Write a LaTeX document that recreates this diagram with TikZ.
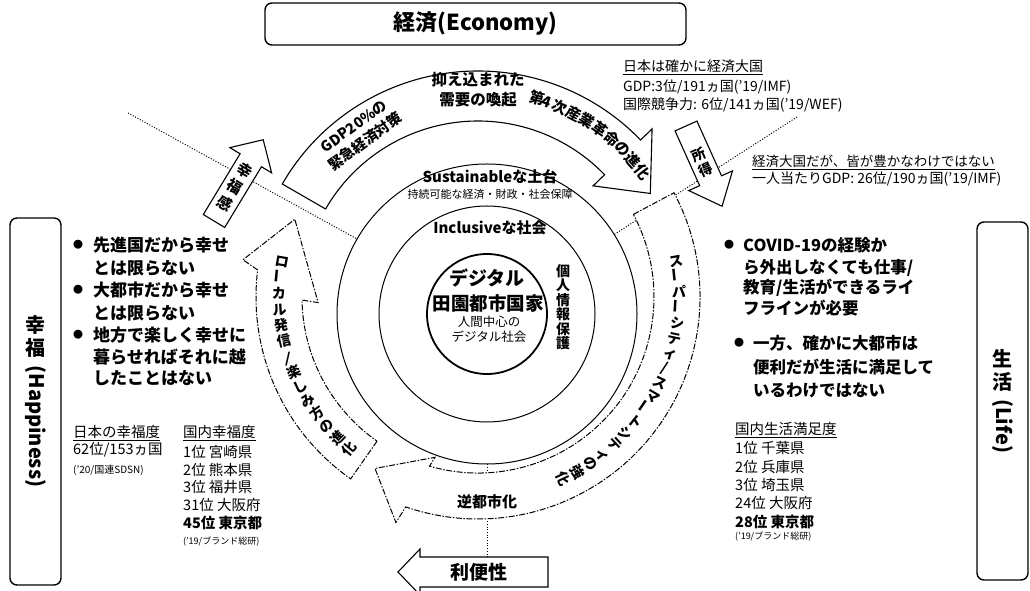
\documentclass[tikz,border=0pt]{standalone}
\usepackage{fontspec}
\setmainfont{Noto Sans CJK JP}
\usetikzlibrary{calc}
\newcommand{\fsz}[2]{\fontsize{#1}{#2}\selectfont}
\newcommand{\vb}{\rotatebox{90}{ー}}
\begin{document}
\begin{tikzpicture}[x=1pt,y=1pt,
  frame/.style={draw, line width=1.4pt, rounded corners=7pt, inner sep=0pt},
  blk/.style={draw, line width=1.1pt, fill=white, line join=miter},
  dblk/.style={draw, line width=1pt, fill=white, dash pattern=on 6pt off 1.6pt on 1.4pt off 1.6pt},
  dotl/.style={line width=1pt, dash pattern=on 1pt off 1.7pt},
  ringc/.style={circle, draw, line width=1pt, inner sep=0pt},
  lt/.style={inner sep=0pt, anchor=west},
  ct/.style={inner sep=0pt},
  rtxt/.style={inner sep=0pt, font=\fsz{14}{14}\bfseries, text height=10.5pt, text depth=1.2pt, text width=12pt, align=center},
]
\useasboundingbox (0,0) rectangle (1030,591);
\fill[white] (0,0) rectangle (1030,591);

% concentric circles
\node[ringc, minimum size=300] (sus) at (487,277) {};
\node[ringc, minimum size=216] (incl) at (487,277) {};
\node[ringc, minimum size=120, line width=1.8pt] (core) at (487,277) {};

% dotted dividers
\coordinate (C) at (478,294);
\coordinate (d1) at (128,478);
\coordinate (d2) at (797,474);
\coordinate (benriTop) at (487,34);
\draw[dotl] (d1) -- (sus.150.8);
\draw[dotl] (d2) -- (sus.32.4);
\draw[dotl] (sus.south) -- (benriTop);

% ring arrows
\begin{scope}[shift={(C)}]
\path[blk] (150:176) -- (150:226) arc[start angle=150, end angle=44, radius=226]
  -- (44:242) -- (31:201) -- (44:160) -- (44:176)
  arc[start angle=44, end angle=150, radius=176] -- cycle;
\path[dblk] (28:176) -- (28:222) arc[start angle=28, end angle=-109, radius=222]
  -- (-110:240) -- (-121:200) -- (-105:166) -- (-106:176)
  arc[start angle=-106, end angle=28, radius=176] -- cycle;
\path[dblk] (235:176) -- (235:222) arc[start angle=235, end angle=173, radius=222]
  -- (171:238) -- (157:199) -- (182:160) -- (181:176)
  arc[start angle=181, end angle=235, radius=176] -- cycle;
\end{scope}

% small block arrows
\begin{scope}[shift={(214,370)}, rotate=58.8]
\path[blk] (0,-12.5) -- (71,-12.5) -- (71,-24.4) -- (95,0) -- (71,24.4) -- (71,12.5) -- (0,12.5) -- cycle;
\end{scope}
\begin{scope}[shift={(686,465)}, rotate=-65.8]
\path[blk] (0,-12) -- (60,-12) -- (60,-24) -- (88,0) -- (60,24) -- (60,12) -- (0,12) -- cycle;
\end{scope}
\path[blk] (548,34) -- (420,34) -- (420,42) -- (398,19) -- (420,-4) -- (420,4) -- (548,4) -- cycle;

\node[ct, font=\fsz{15}{19}\bfseries, align=center, rotate=-31.2] (kofukukan) at (234.7,404.2) {幸\\福\\感};
\node[ct, font=\fsz{14}{17}\bfseries, align=center, rotate=24.2] (shotoku) at (702.4,428.5) {所\\得};
\node[ct, font=\fsz{19}{19}\bfseries] (benri) at (479,19) {利便性};

% ring texts
\node[ct, font=\fsz{14.5}{19}\bfseries, align=center, rotate=36] (gdp) at ($(C)+(126:201)$) {GDP20\%の\\緊急経済対策};
\node[ct, font=\fsz{15.5}{20}\bfseries, align=center] (yokusei) at ($(C)+(90:207)$) {抑え込まれた\\需要の喚起};
\foreach \c/\a [count=\i] in {第/74,4/70.6,次/67.2,産/63,業/58.8,革/54.6,命/50.4,の/46.2,進/42,化/37.8}
  \node[rtxt, font=\fsz{15}{15}\bfseries, text width=11pt, rotate=\a-90] (sg\i) at ($(C)+(\a:206)$) {\c};
\foreach \c [count=\i from 0] in {ロ,\vb,カ,ル,発,信,{\rotatebox{-18}{/}},楽,し,み,方,の,進,化}
  \node[rtxt, rotate={170+\i*4.6-180}] (lc\i) at ($(C)+({170+\i*4.6}:200)$) {\c};
\foreach \c [count=\i from 0] in {ス,\vb,パ,\vb,シ,テ,ィ,{/},ス,マ,\vb,ト,シ,テ,ィ,の,強,化}
  \node[rtxt, rotate={10-\i*4.41}] (rc\i) at ($(C)+({10-\i*4.41}:200)$) {\c};
\node[ct, font=\fsz{15}{15}\bfseries] (gyaku) at (487,89) {逆都市化};

% circle texts
\node[ct, font=\fsz{15}{15}\bfseries] (sust) at (490,414) {Sustainableな土台};
\node[ct, font=\fsz{11}{11}] (sustsub) at (490,397) {持続可能な経済・財政・社会保障};
\node[ct, font=\fsz{15}{15}\bfseries] (inclt) at (490,363) {Inclusiveな社会};
\node[ct, font=\fsz{19}{19}\bfseries] (dig) at (487,313) {デジタル};
\node[ct, font=\fsz{18.5}{18.5}\bfseries] (den) at (488,288) {田園都市国家};
\node[ct, font=\fsz{12.5}{12.5}] (ning) at (489,269) {人間中心の};
\node[ct, font=\fsz{12.5}{12.5}] (digs) at (489,254) {デジタル社会};
\node[ct, font=\fsz{14}{14.5}\bfseries, align=center] (priv) at (563,284) {個\\人\\情\\報\\保\\護};

% side frames
\node[frame, minimum width=421, minimum height=42] (econ) at (475.5,567) {};
\node[ct, font=\fsz{22}{22}\bfseries] (econT) at (econ.center) {経済(Economy)};
\node[frame, minimum width=51, minimum height=367] (happy) at (35.5,189.5) {};
\node[ct, font=\fsz{20}{23}\bfseries, align=center] (happyT) at (happy.center) {幸\\福\\[-13pt]\rotatebox{-90}{(Happiness)}};
\node[frame, minimum width=51, minimum height=358] (life) at (1002.5,190) {};
\node[ct, font=\fsz{20}{23}\bfseries, align=center] (lifeT) at (life.center) {生\\活\\[-13pt]\rotatebox{-90}{(Life)}};

% left bullets
\foreach \n/\y/\t in {1/346/{先進国だから幸せ},2/323/{とは限らない},3/301/{大都市だから幸せ},4/278/{とは限らない},5/256/{地方で楽しく幸せに},6/234/{暮らせればそれに越},7/213/{したことはない}}
  \node[lt, font=\fsz{17}{17}\bfseries] (hb\n) at (93,\y) {\t};
\foreach \n/\y in {1/346,2/301,3/256}
  \node[ct, font=\fsz{10}{10}] (hd\n) at (78,\y) {●};

% right bullets
\foreach \n/\x/\y/\t in {1/743/346/{COVID-19の経験か},2/743/323/{ら外出しなくても仕事/},3/743/303/{教育/生活ができるライ},4/743/283/{フラインが必要},5/753/248/{一方、確かに大都市は},6/753/224/{便利だが生活に満足して},7/753/201/{いるわけではない}}
  \node[lt, font=\fsz{16.5}{16.5}\bfseries] (lb\n) at (\x,\y) {\t};
\foreach \n/\x/\y in {1/729/346,2/739/248}
  \node[ct, font=\fsz{10}{10}] (ld\n) at (\x,\y) {●};

% stats top right
\node[lt, font=\fsz{14}{14}] (s1) at (623,524) {\underline{日本は確かに経済大国}};
\node[lt, font=\fsz{14}{14}] (s2) at (623,504) {GDP:3位/191ヵ国('19/IMF)};
\node[lt, font=\fsz{14}{14}] (s3) at (623,486) {国際競争力: 6位/141ヵ国('19/WEF)};
\node[lt, font=\fsz{13.5}{13.5}] (s4) at (752,429) {\underline{経済大国だが、皆が豊かなわけではない}};
\node[lt, font=\fsz{14}{14}] (s5) at (752,412) {一人当たりGDP: 26位/190ヵ国('19/IMF)};

% stats bottom left
\node[lt, font=\fsz{14.5}{14.5}] (j1) at (73,158) {\underline{日本の幸福度}};
\node[lt, font=\fsz{14.5}{14.5}] (j2) at (73,141) {62位/153ヵ国};
\node[lt, font=\fsz{10}{10}] (j3) at (73,121) {('20/国連SDSN)};
\node[lt, font=\fsz{14.5}{14.5}] (k0) at (183,158) {\underline{国内幸福度}};
\foreach \n/\y/\t in {1/139/{1位 宮崎県},2/121/{2位 熊本県},3/104/{3位 福井県},4/86/{31位 大阪府}}
  \node[lt, font=\fsz{14.5}{14.5}] (k\n) at (183,\y) {\t};
\node[lt, font=\fsz{14.5}{14.5}\bfseries] (k5) at (183,68) {45位 東京都};
\node[lt, font=\fsz{9}{9}] (k6) at (183,49) {('19/ブランド総研)};

% stats bottom right
\node[lt, font=\fsz{14.5}{14.5}] (m0) at (735,161) {\underline{国内生活満足度}};
\foreach \n/\y/\t in {1/143/{1位 千葉県},2/124/{2位 兵庫県},3/106/{3位 埼玉県},4/88/{24位 大阪府}}
  \node[lt, font=\fsz{14.5}{14.5}] (m\n) at (735,\y) {\t};
\node[lt, font=\fsz{14.5}{14.5}\bfseries] (m5) at (735,69) {28位 東京都};
\node[lt, font=\fsz{9}{9}] (m6) at (735,54) {('19/ブランド総研)};
\end{tikzpicture}
\end{document}
